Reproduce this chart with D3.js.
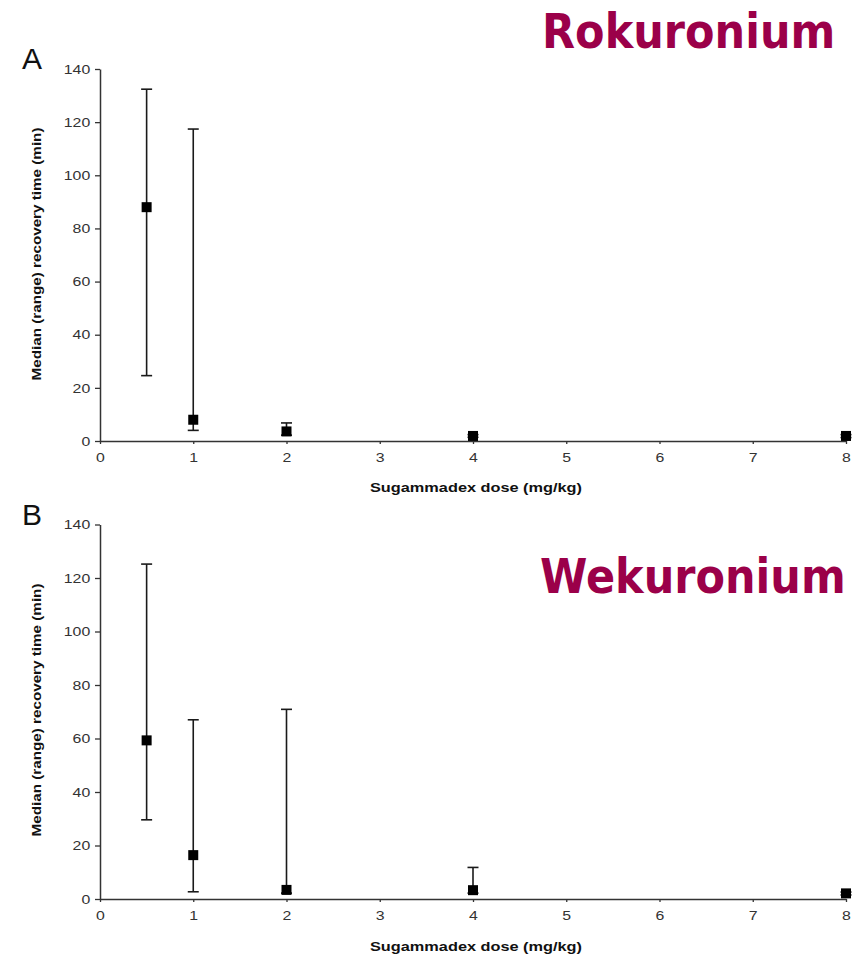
<!DOCTYPE html>
<html>
<head>
<meta charset="utf-8">
<script src="https://cdn.jsdelivr.net/npm/d3@7"></script>
<style>
  body { margin: 0; background: #fff; }
  svg { display: block; }
</style>
</head>
<body>
<div id="chart"></div>
<script>
// sugammadex doses (mg/kg)
const doses = [0.5, 1, 2, 4, 8];

// A: rocuronium - median, min, max recovery time (min)
const rocMedian = [88, 8, 3.6, 1.9, 1.9];
const rocMin = [24.6, 4, 2.2, 1.4, 1.3];
const rocMax = [132.4, 117.4, 6.8, 2.4, 2.4];

// B: vecuronium
const vecMedian = [59.3, 16.4, 3.4, 3.3, 2.1];
const vecMin = [29.6, 2.7, 2.2, 2.2, 1.5];
const vecMax = [125.2, 67, 70.9, 11.8, 2.6];

const xTicks = [0, 1, 2, 3, 4, 5, 6, 7, 8];
const yTicks = [0, 20, 40, 60, 80, 100, 120, 140];

const W = 863, H = 958;
const svg = d3.select("#chart").append("svg")
  .attr("width", W)
  .attr("height", H);

const titleColor = "#9b0049";
const axisColor = "#333";
const sans = "'Liberation Sans', Arial, sans-serif";

const panels = [
  { letter: "A", name: "Rokuronium", med: rocMedian, lo: rocMin, hi: rocMax,
    top: 69, bottom: 441, letterY: 69, nameX: 542, nameY: 48,
    yLabelY: 254, xLabelY: 492 },
  { letter: "B", name: "Wekuronium", med: vecMedian, lo: vecMin, hi: vecMax,
    top: 524.5, bottom: 899, letterY: 525, nameX: 540, nameY: 593,
    yLabelY: 710, xLabelY: 951 }
];

const x = d3.scaleLinear().domain([0, 8]).range([100, 846]);

function styleAxis(a) {
  a.select(".domain").attr("stroke", axisColor).attr("stroke-width", 1.5);
  a.selectAll(".tick line").attr("stroke", axisColor).attr("stroke-width", 1.3);
  a.selectAll(".tick text")
    .attr("transform", "scale(1.22,1)")
    .attr("fill", "#333")
    .style("font-family", sans)
    .style("font-size", "13px");
}

panels.forEach(p => {
  const y = d3.scaleLinear().domain([0, 140]).range([p.bottom, p.top]);
  const g = svg.append("g");

  const rows = doses.map((d, i) => ({ dose: d, med: p.med[i], lo: p.lo[i], hi: p.hi[i] }));

  // axes
  g.append("g")
    .attr("transform", `translate(${x(0)},0)`)
    .call(d3.axisLeft(y).tickValues(yTicks).tickSize(5).tickSizeOuter(0).tickPadding(3))
    .call(styleAxis);

  g.append("g")
    .attr("transform", `translate(0,${p.bottom})`)
    .call(d3.axisBottom(x).tickValues(xTicks).tickSize(3).tickSizeOuter(0).tickPadding(9))
    .call(styleAxis);

  // range bars
  const bars = g.append("g").attr("stroke", "#1a1a1a").attr("stroke-width", 1.6);
  bars.selectAll(".stem").data(rows).join("line")
    .attr("x1", d => x(d.dose)).attr("x2", d => x(d.dose))
    .attr("y1", d => y(d.lo)).attr("y2", d => y(d.hi));
  bars.selectAll(".capHi").data(rows).join("line")
    .attr("x1", d => x(d.dose) - 5.5).attr("x2", d => x(d.dose) + 5.5)
    .attr("y1", d => y(d.hi)).attr("y2", d => y(d.hi));
  bars.selectAll(".capLo").data(rows).join("line")
    .attr("x1", d => x(d.dose) - 5.5).attr("x2", d => x(d.dose) + 5.5)
    .attr("y1", d => y(d.lo)).attr("y2", d => y(d.lo));

  // medians
  g.append("g").selectAll("rect").data(rows).join("rect")
    .attr("x", d => x(d.dose) - 5)
    .attr("y", d => y(d.med) - 5)
    .attr("width", 10)
    .attr("height", 10)
    .attr("fill", "#000");

  // panel letter
  g.append("text")
    .attr("x", 22)
    .attr("y", p.letterY)
    .style("font-family", sans)
    .style("font-size", "30px")
    .attr("fill", "#111")
    .text(p.letter);

  // axis titles
  g.append("text")
    .attr("transform", `translate(41,${p.yLabelY}) rotate(-90)`)
    .attr("text-anchor", "middle")
    .attr("textLength", 253)
    .attr("lengthAdjust", "spacingAndGlyphs")
    .style("font-family", sans)
    .style("font-size", "12.5px")
    .style("font-weight", "700")
    .attr("fill", "#111")
    .text("Median (range) recovery time (min)");

  g.append("text")
    .attr("x", 476)
    .attr("y", p.xLabelY)
    .attr("text-anchor", "middle")
    .attr("textLength", 212)
    .attr("lengthAdjust", "spacingAndGlyphs")
    .style("font-family", sans)
    .style("font-size", "13.5px")
    .style("font-weight", "700")
    .attr("fill", "#111")
    .text("Sugammadex dose (mg/kg)");

  // drug name
  g.append("text")
    .attr("transform", `translate(${p.nameX},${p.nameY}) scale(1,1.12)`)
    .style("font-family", "'DejaVu Sans', Verdana, sans-serif")
    .style("font-size", "43px")
    .style("font-weight", "700")
    .attr("fill", titleColor)
    .text(p.name);
});
</script>
</body>
</html>
